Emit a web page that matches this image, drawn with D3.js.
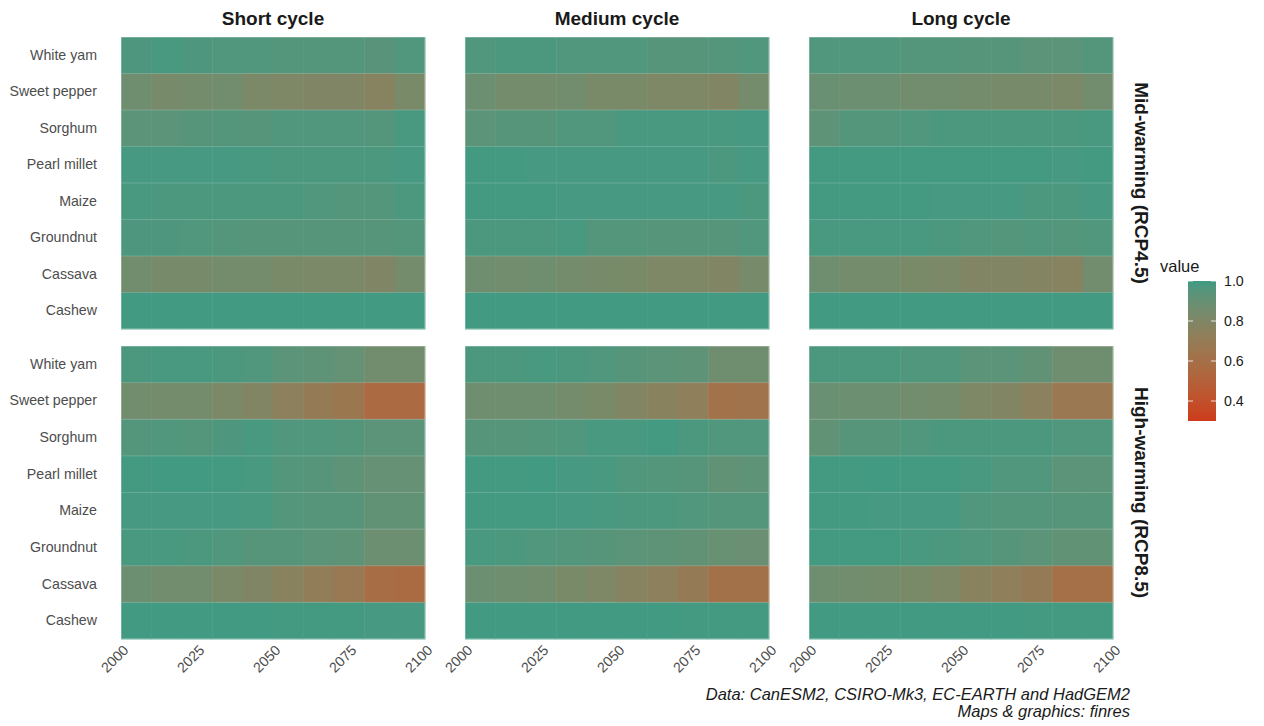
<!DOCTYPE html>
<html><head><meta charset="utf-8">
<script src="https://cdn.jsdelivr.net/npm/d3@7"></script>
<style>
body{margin:0;background:#fff;}
text{font-family:"Liberation Sans",Arial,Helvetica,sans-serif;}
</style></head>
<body><svg id="chart" width="1264" height="726"></svg>
<script>
const crops = ["White yam","Sweet pepper","Sorghum","Pearl millet","Maize","Groundnut","Cassava","Cashew"];
const periods = [2000,2010,2020,2030,2040,2050,2060,2070,2080,2090];
const cycles = ["Short cycle","Medium cycle","Long cycle"];
const scenarios = ["Mid-warming (RCP4.5)","High-warming (RCP8.5)"];
const xTicks = [2000,2025,2050,2075,2100];
const legendTicks = [0.4,0.6,0.8,1.0];

// rows follow crops order, columns follow periods
const shortMid = [
 [0.97,0.98,0.97,0.965,0.965,0.955,0.955,0.955,0.94,0.965],
 [0.87,0.84,0.85,0.86,0.82,0.81,0.80,0.80,0.77,0.83],
 [0.935,0.935,0.945,0.955,0.945,0.965,0.965,0.965,0.955,0.98],
 [0.985,0.985,0.985,0.985,0.98,0.975,0.975,0.975,0.975,0.985],
 [0.98,0.975,0.975,0.975,0.975,0.975,0.965,0.955,0.955,0.975],
 [0.97,0.97,0.965,0.955,0.945,0.945,0.945,0.945,0.945,0.955],
 [0.86,0.84,0.84,0.85,0.85,0.83,0.82,0.82,0.80,0.85],
 [0.995,0.995,0.995,0.995,0.995,0.995,0.995,0.995,0.995,0.995]];
const shortHigh = [
 [0.975,0.98,0.98,0.975,0.965,0.935,0.925,0.905,0.86,0.86],
 [0.86,0.85,0.85,0.82,0.79,0.74,0.70,0.66,0.56,0.56],
 [0.955,0.965,0.955,0.97,0.98,0.965,0.965,0.955,0.935,0.935],
 [0.99,0.995,0.995,0.99,0.98,0.955,0.945,0.925,0.90,0.90],
 [0.985,0.985,0.985,0.985,0.98,0.955,0.945,0.945,0.915,0.915],
 [0.98,0.98,0.975,0.965,0.945,0.945,0.935,0.925,0.88,0.88],
 [0.88,0.86,0.86,0.82,0.80,0.76,0.72,0.68,0.59,0.57],
 [0.995,0.995,0.995,0.995,0.995,0.99,0.99,0.99,0.985,0.985]];
const mediumMid = [
 [0.965,0.975,0.975,0.965,0.965,0.965,0.945,0.945,0.955,0.965],
 [0.88,0.85,0.85,0.86,0.83,0.83,0.81,0.81,0.79,0.85],
 [0.935,0.945,0.945,0.965,0.965,0.98,0.98,0.98,0.98,0.985],
 [0.99,0.99,0.985,0.985,0.985,0.985,0.985,0.985,0.975,0.985],
 [0.99,0.99,0.99,0.985,0.985,0.985,0.985,0.985,0.985,0.975],
 [0.975,0.975,0.975,0.98,0.955,0.955,0.945,0.945,0.945,0.965],
 [0.87,0.86,0.87,0.85,0.84,0.83,0.81,0.81,0.79,0.84],
 [0.995,0.995,0.995,0.995,0.995,0.995,0.995,0.995,0.995,0.995]];
const mediumHigh = [
 [0.975,0.975,0.98,0.975,0.965,0.945,0.935,0.925,0.87,0.87],
 [0.87,0.87,0.87,0.85,0.83,0.79,0.76,0.73,0.62,0.63],
 [0.945,0.945,0.955,0.965,0.98,0.98,0.99,0.975,0.965,0.965],
 [0.99,0.99,0.995,0.985,0.98,0.965,0.955,0.945,0.915,0.925],
 [0.99,0.99,0.99,0.985,0.98,0.975,0.975,0.965,0.955,0.955],
 [0.98,0.975,0.965,0.955,0.945,0.935,0.925,0.915,0.895,0.885],
 [0.88,0.87,0.86,0.83,0.81,0.77,0.74,0.70,0.61,0.61],
 [0.995,0.995,0.995,0.995,0.995,0.995,0.995,0.99,0.99,0.99]];
const longMid = [
 [0.965,0.965,0.965,0.955,0.955,0.945,0.945,0.935,0.935,0.955],
 [0.89,0.88,0.88,0.86,0.86,0.85,0.84,0.84,0.82,0.86],
 [0.925,0.955,0.955,0.965,0.975,0.975,0.975,0.975,0.975,0.98],
 [0.99,0.99,0.99,0.99,0.99,0.99,0.99,0.99,0.985,0.99],
 [0.99,0.99,0.99,0.99,0.985,0.985,0.985,0.975,0.975,0.985],
 [0.98,0.98,0.98,0.98,0.975,0.965,0.955,0.965,0.955,0.965],
 [0.87,0.85,0.85,0.83,0.82,0.79,0.79,0.78,0.77,0.86],
 [0.995,0.995,0.995,0.995,0.995,0.995,0.995,0.995,0.995,0.995]];
const longHigh = [
 [0.975,0.975,0.975,0.965,0.965,0.935,0.935,0.915,0.87,0.87],
 [0.89,0.88,0.88,0.86,0.85,0.81,0.79,0.75,0.67,0.67],
 [0.915,0.945,0.945,0.965,0.975,0.975,0.975,0.975,0.965,0.965],
 [0.99,0.99,0.995,0.99,0.99,0.98,0.965,0.965,0.935,0.935],
 [0.99,0.99,0.985,0.985,0.985,0.965,0.955,0.955,0.945,0.945],
 [0.99,0.99,0.99,0.98,0.975,0.965,0.945,0.935,0.915,0.915],
 [0.87,0.86,0.85,0.83,0.81,0.76,0.73,0.70,0.60,0.60],
 [0.995,0.995,0.995,0.995,0.995,0.995,0.995,0.99,0.99,0.99]];

const panelData = [[shortMid, mediumMid, longMid],[shortHigh, mediumHigh, longHigh]];

const svg = d3.select("#chart");
const color = d3.scaleLinear().domain([0.3,1.0]).range(["#cd3a1c","#3f9a83"]).interpolate(d3.interpolateLab).clamp(true);

const colX = [[121,425],[465,769],[809,1113]];
const rowY = [[37,329],[346,639]];
const txtCol = "#4d4d4d";
const lblSize = 14.2;

cycles.forEach((c,ci)=>{
  const x = d3.scaleLinear().domain([2000,2100]).range(colX[ci]);
  svg.append("text").attr("x",(colX[ci][0]+colX[ci][1])/2).attr("y",25)
    .attr("text-anchor","middle").attr("font-size",19).attr("font-weight","bold").attr("fill","#1a1a1a").text(c);
  scenarios.forEach((s,si)=>{
    const y = d3.scaleBand().domain(crops).range(rowY[si]);
    const g = svg.append("g");
    const vals = panelData[si][ci];
    const cells = [];
    crops.forEach((cr,r)=>periods.forEach((p,k)=>cells.push({crop:cr,year:p,v:vals[r][k]})));
    g.selectAll("rect.cell").data(cells).join("rect")
      .attr("x",d=>x(d.year)).attr("y",d=>y(d.crop))
      .attr("width",d=>x(d.year+10)-x(d.year)+0.5).attr("height",y.bandwidth()+0.5)
      .attr("fill",d=>color(d.v));
    g.selectAll("line.sep").data(crops.slice(1)).join("line")
      .attr("x1",colX[ci][0]).attr("x2",colX[ci][1])
      .attr("y1",d=>y(d)).attr("y2",d=>y(d))
      .attr("stroke","rgba(255,255,255,0.18)").attr("stroke-width",1);
    g.append("rect").attr("x",colX[ci][0]).attr("y",rowY[si][0])
      .attr("width",colX[ci][1]-colX[ci][0]).attr("height",rowY[si][1]-rowY[si][0])
      .attr("fill","none").attr("stroke","rgba(255,255,255,0.45)").attr("stroke-width",1);
    if(ci===0){
      const ay = svg.append("g").attr("transform",`translate(${colX[0][0]},0)`)
        .call(d3.axisLeft(y).tickSize(0).tickPadding(24));
      ay.select(".domain").remove();
      ay.selectAll("text").attr("font-size",lblSize).attr("fill",txtCol)
        .style("font-family","'Liberation Sans',Arial,sans-serif");
    }
    if(si===1){
      const ax = svg.append("g").attr("transform",`translate(0,${rowY[1][1]})`)
        .call(d3.axisBottom(x).tickValues(xTicks).tickFormat(d3.format("d")).tickSize(0).tickPadding(4));
      ax.select(".domain").remove();
      ax.selectAll("text").attr("font-size",lblSize).attr("fill",txtCol)
        .style("font-family","'Liberation Sans',Arial,sans-serif")
        .attr("text-anchor","end").attr("dy","0.71em")
        .attr("transform","rotate(-45) translate(-3,0)");
    }
  });
});

scenarios.forEach((s,si)=>{
  const cy=(rowY[si][0]+rowY[si][1])/2;
  svg.append("text").attr("transform",`translate(1135,${cy}) rotate(90)`)
    .attr("text-anchor","middle").attr("font-size",19).attr("font-weight","bold").attr("fill","#1a1a1a").text(s);
});

// legend
const lx=1188, lw=28, ly0=281, ly1=421;
const ls = d3.scaleLinear().domain([1.0,0.3]).range([ly0,ly1]);
const defs = svg.append("defs");
const grad = defs.append("linearGradient").attr("id","lg").attr("x1",0).attr("x2",0).attr("y1",0).attr("y2",1);
d3.range(0,1.0001,0.05).forEach(t=>{
  grad.append("stop").attr("offset",t).attr("stop-color",color(1.0-0.7*t));
});
svg.append("rect").attr("x",lx).attr("y",ly0).attr("width",lw).attr("height",ly1-ly0).attr("fill","url(#lg)");
svg.append("text").attr("x",1160).attr("y",272).attr("font-size",16.5).attr("fill","#1a1a1a").text("value");
legendTicks.forEach(t=>{
  const yy=ls(t);
  svg.append("line").attr("x1",lx).attr("x2",lx+5).attr("y1",yy).attr("y2",yy).attr("stroke","rgba(255,255,255,0.8)");
  svg.append("line").attr("x1",lx+lw-5).attr("x2",lx+lw).attr("y1",yy).attr("y2",yy).attr("stroke","rgba(255,255,255,0.8)");
  svg.append("text").attr("x",1224).attr("y",yy).attr("dy","0.35em").attr("font-size",lblSize).attr("fill","#1a1a1a").text(d3.format(".1f")(t));
});

// caption
svg.append("text").attr("x",1130).attr("y",700).attr("text-anchor","end").attr("font-size",16.5).attr("font-style","italic").attr("fill","#1a1a1a")
  .text("Data: CanESM2, CSIRO-Mk3, EC-EARTH and HadGEM2");
svg.append("text").attr("x",1130).attr("y",717).attr("text-anchor","end").attr("font-size",16.5).attr("font-style","italic").attr("fill","#1a1a1a")
  .text("Maps & graphics: finres");
</script></body></html>
